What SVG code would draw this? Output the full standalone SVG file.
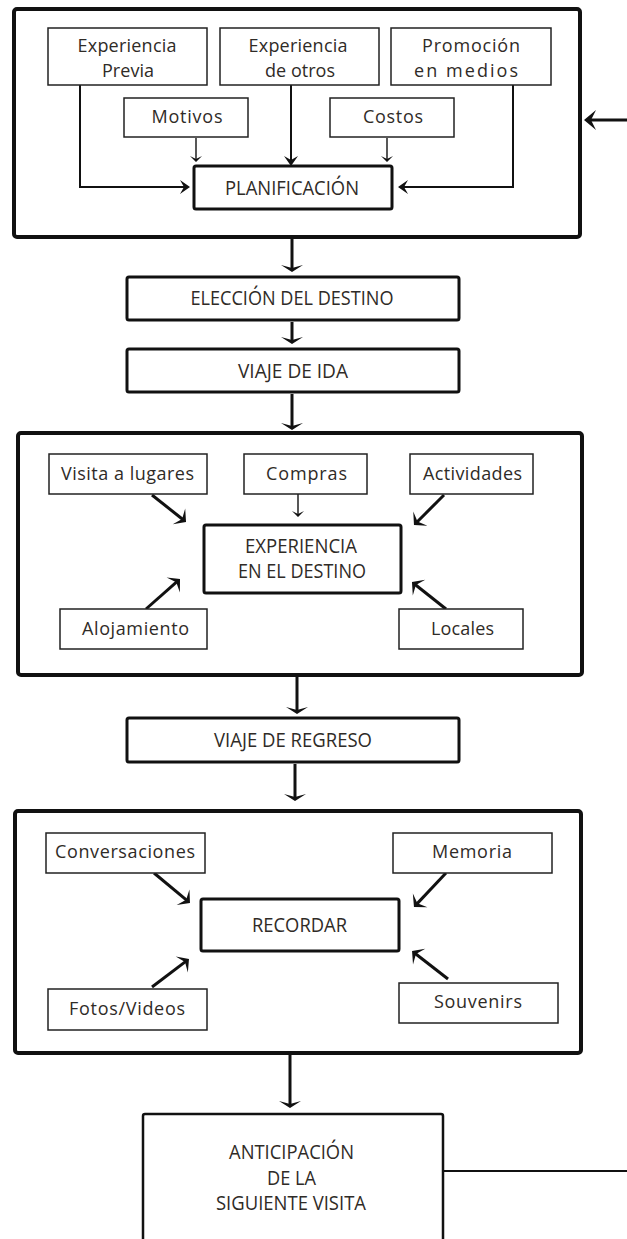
<svg xmlns="http://www.w3.org/2000/svg" width="627" height="1239" viewBox="0 0 627 1239">
<style>
.bg{fill:#ffffff}
.outer{fill:none;stroke:#111;stroke-width:4}
.main{fill:#fff;stroke:#111;stroke-width:3}
.small{fill:#fff;stroke:#222;stroke-width:1.5}
.t{font-family:"Open Sans","Liberation Sans",sans-serif;font-size:18px;fill:#2f2b27;text-anchor:middle}
.h{font-family:"Open Sans","Liberation Sans",sans-serif;font-size:20px;font-weight:500;fill:#2f2b27;text-anchor:middle}
.c3{fill:none;stroke:#111;stroke-width:3}
.c2{fill:none;stroke:#111;stroke-width:2}
.c1{fill:none;stroke:#111;stroke-width:1.4}
.hd{fill:#111}
</style>
<defs>
<marker id="ah" markerUnits="userSpaceOnUse" viewBox="-8 -12 9 24" markerWidth="9" markerHeight="24" refX="-4" refY="0" orient="auto">
<path class="hd" d="M0,0 L-7,-11 L-4,0 L-7,11 z"/>
</marker>
<marker id="ad" markerUnits="userSpaceOnUse" viewBox="-10 -11 11 22" markerWidth="11" markerHeight="22" refX="-4" refY="0" orient="auto">
<path class="hd" d="M0,0 L-9,-10 L-5,0 L-9,10 z"/>
</marker>
<marker id="am" markerUnits="userSpaceOnUse" viewBox="-11 -8 12 16" markerWidth="12" markerHeight="16" refX="-4" refY="0" orient="auto">
<path class="hd" d="M0,0 L-10,-7 L-6,0 L-10,7 z"/>
</marker>
<marker id="ar" markerUnits="userSpaceOnUse" viewBox="-13 -11 14 22" markerWidth="14" markerHeight="22" refX="-4" refY="0" orient="auto">
<path class="hd" d="M0,0 L-12,-10 L-7,0 L-12,10 z"/>
</marker>
<marker id="as" markerUnits="userSpaceOnUse" viewBox="-7 -7 8 14" markerWidth="8" markerHeight="14" refX="-3" refY="0" orient="auto">
<path class="hd" d="M0,0 L-6,-6 L-3,0 L-6,6 z"/>
</marker>
</defs>
<rect class="bg" x="0" y="0" width="627" height="1239"/>

<g id="frame-planificacion"><rect class="outer" x="14" y="9" width="566" height="228" rx="3"/></g>
<g id="frame-experiencia"><rect class="outer" x="18" y="433" width="564" height="242" rx="3"/></g>
<g id="frame-recordar"><rect class="outer" x="15" y="811" width="566" height="242" rx="3"/></g>

<g id="connectors">
<path class="c2" d="M80,85 V187 H186" marker-end="url(#am)"/>
<path class="c2" d="M291,85 V162" marker-end="url(#am)"/>
<path class="c2" d="M513,85 V187 H402" marker-end="url(#am)"/>
<path class="c1" d="M196,138 V159" marker-end="url(#as)"/>
<path class="c1" d="M387,138 V159" marker-end="url(#as)"/>
<path class="c3" d="M627,120 H588" marker-end="url(#ar)"/>
<path class="c3" d="M292,239 V268" marker-end="url(#ah)"/>
<path class="c3" d="M292,322 V340" marker-end="url(#ah)"/>
<path class="c3" d="M292,394 V426" marker-end="url(#ah)"/>
<path class="c3" d="M152,495 L182.9,519.5" marker-end="url(#ad)"/>
<path class="c1" d="M298,494 V514" marker-end="url(#as)"/>
<path class="c3" d="M444,495 L416.8,522.2" marker-end="url(#ad)"/>
<path class="c3" d="M146,609 L177,581.6" marker-end="url(#ad)"/>
<path class="c3" d="M446,609 L415.1,584.5" marker-end="url(#ad)"/>
<path class="c3" d="M297,677 V710" marker-end="url(#ah)"/>
<path class="c3" d="M295,764 V797" marker-end="url(#ah)"/>
<path class="c3" d="M154,873 L186.9,900.4" marker-end="url(#ad)"/>
<path class="c3" d="M446,873 L416.7,904.1" marker-end="url(#ad)"/>
<path class="c3" d="M152,987 L185.8,961.4" marker-end="url(#ad)"/>
<path class="c3" d="M448,979 L415.2,953.5" marker-end="url(#ad)"/>
<path class="c3" d="M290,1055 V1104" marker-end="url(#ah)"/>
<path class="c2" d="M443,1171 H627"/>
</g>

<g id="exp-previa"><rect class="small" x="48" y="28" width="159" height="57"/>
<text class="t" x="127" y="52" textLength="99" lengthAdjust="spacing">Experiencia</text>
<text class="t" x="128" y="77" textLength="52" lengthAdjust="spacing">Previa</text></g>
<g id="exp-otros"><rect class="small" x="220" y="28" width="159" height="57"/>
<text class="t" x="298" y="52" textLength="99" lengthAdjust="spacing">Experiencia</text>
<text class="t" x="300" y="77" textLength="70" lengthAdjust="spacing">de otros</text></g>
<g id="promocion"><rect class="small" x="391" y="28" width="160" height="57"/>
<text class="t" x="471" y="52" textLength="98" lengthAdjust="spacing">Promoción</text>
<text class="t" x="466" y="77" textLength="104" lengthAdjust="spacing">en medios</text></g>
<g id="motivos"><rect class="small" x="124" y="98" width="124" height="39"/>
<text class="t" x="187" y="123" textLength="71" lengthAdjust="spacing">Motivos</text></g>
<g id="costos"><rect class="small" x="330" y="98" width="124" height="39"/>
<text class="t" x="393" y="123" textLength="60" lengthAdjust="spacing">Costos</text></g>
<g id="planificacion"><rect class="main" x="194" y="166" width="198" height="43" rx="2"/>
<text class="h" x="292" y="195" textLength="134" lengthAdjust="spacingAndGlyphs">PLANIFICACIÓN</text></g>

<g id="eleccion"><rect class="main" x="127" y="277" width="332" height="43" rx="2"/>
<text class="h" x="292" y="305" textLength="203" lengthAdjust="spacingAndGlyphs">ELECCIÓN DEL DESTINO</text></g>
<g id="viaje-ida"><rect class="main" x="127" y="349" width="332" height="43" rx="2"/>
<text class="h" x="293" y="378" textLength="110" lengthAdjust="spacingAndGlyphs">VIAJE DE IDA</text></g>

<g id="visita"><rect class="small" x="49" y="454" width="158" height="40"/>
<text class="t" x="127.5" y="480" textLength="133" lengthAdjust="spacing">Visita a lugares</text></g>
<g id="compras"><rect class="small" x="244" y="454" width="123" height="40"/>
<text class="t" x="306.5" y="480" textLength="81" lengthAdjust="spacing">Compras</text></g>
<g id="actividades"><rect class="small" x="410" y="454" width="123" height="40"/>
<text class="t" x="472.5" y="480" textLength="99" lengthAdjust="spacing">Actividades</text></g>
<g id="experiencia-destino"><rect class="main" x="204" y="525" width="197" height="68" rx="2"/>
<text class="h" x="301" y="553" textLength="112" lengthAdjust="spacingAndGlyphs">EXPERIENCIA</text>
<text class="h" x="302" y="578" textLength="128" lengthAdjust="spacingAndGlyphs">EN EL DESTINO</text></g>
<g id="alojamiento"><rect class="small" x="60" y="609" width="147" height="40"/>
<text class="t" x="135.5" y="635" textLength="107" lengthAdjust="spacing">Alojamiento</text></g>
<g id="locales"><rect class="small" x="399" y="609" width="124" height="40"/>
<text class="t" x="462.5" y="635" textLength="63" lengthAdjust="spacing">Locales</text></g>

<g id="viaje-regreso"><rect class="main" x="127" y="718" width="332" height="44" rx="2"/>
<text class="h" x="293" y="747" textLength="158" lengthAdjust="spacingAndGlyphs">VIAJE DE REGRESO</text></g>

<g id="conversaciones"><rect class="small" x="46" y="833" width="159" height="40"/>
<text class="t" x="125" y="858" textLength="140" lengthAdjust="spacing">Conversaciones</text></g>
<g id="memoria"><rect class="small" x="393" y="833" width="159" height="40"/>
<text class="t" x="472" y="858" textLength="80" lengthAdjust="spacing">Memoria</text></g>
<g id="recordar"><rect class="main" x="201" y="899" width="198" height="52" rx="2"/>
<text class="h" x="299.5" y="932" textLength="95" lengthAdjust="spacingAndGlyphs">RECORDAR</text></g>
<g id="fotos"><rect class="small" x="48" y="989" width="159" height="41"/>
<text class="t" x="127" y="1015" textLength="116" lengthAdjust="spacing">Fotos/Videos</text></g>
<g id="souvenirs"><rect class="small" x="399" y="983" width="159" height="40"/>
<text class="t" x="478" y="1008" textLength="88" lengthAdjust="spacing">Souvenirs</text></g>

<g id="anticipacion"><rect class="main" x="143" y="1114" width="300" height="140" rx="2" style="stroke-width:2.5"/>
<text class="h" x="291.5" y="1159" textLength="125" lengthAdjust="spacingAndGlyphs">ANTICIPACIÓN</text>
<text class="h" x="291.5" y="1185" textLength="49" lengthAdjust="spacingAndGlyphs">DE LA</text>
<text class="h" x="291" y="1210" textLength="150" lengthAdjust="spacingAndGlyphs">SIGUIENTE VISITA</text></g>
</svg>
